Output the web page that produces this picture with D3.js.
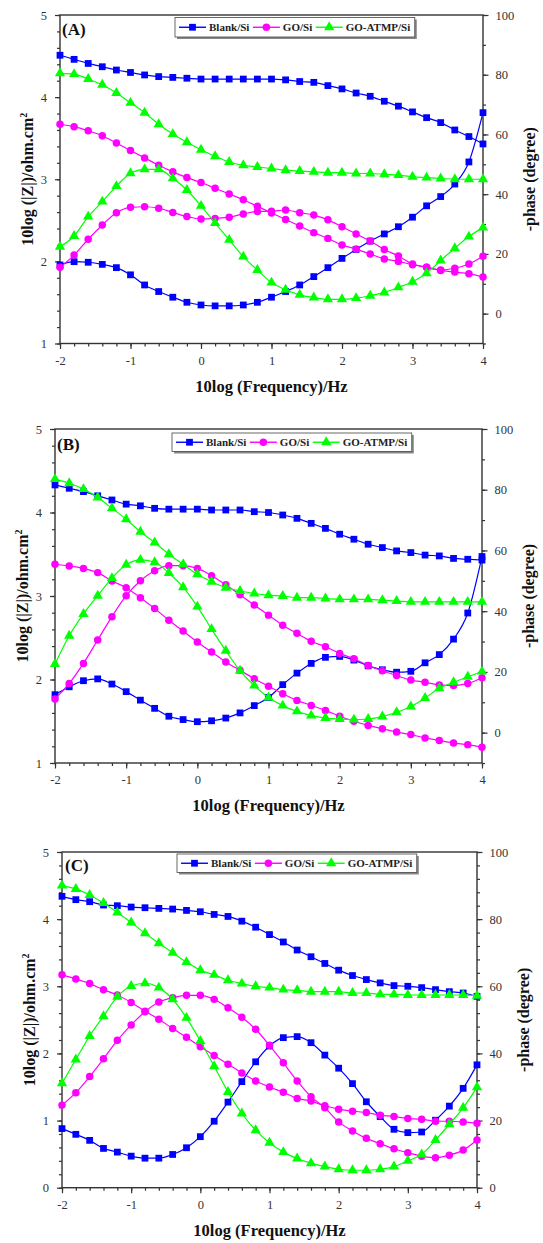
<!DOCTYPE html>
<html><head><meta charset="utf-8">
<script src="https://cdn.jsdelivr.net/npm/d3@7"></script>
<style>
body{margin:0;background:#fff;}
svg{display:block;}
text{font-family:"Liberation Serif","Times New Roman",serif;}
</style></head><body>
<svg id="chart" width="543" height="1243"></svg>
<script>
// ---- data ----
const logFreq = [-2,-1.8,-1.6,-1.4,-1.2,-1,-0.8,-0.6,-0.4,-0.2,0,0.2,0.4,0.6,0.8,1,1.2,1.4,1.6,1.8,2,2.2,2.4,2.6,2.8,3,3.2,3.4,3.6,3.8,4];
const seriesNames = ["Blank/Si","GO/Si","GO-ATMP/Si"];

// Panel A : 10log|Z| (left axis) and -phase in degree (right axis)
const A_blankZ = [4.51,4.46,4.41,4.37,4.33,4.30,4.27,4.25,4.24,4.23,4.22,4.22,4.22,4.22,4.22,4.22,4.21,4.19,4.18,4.14,4.10,4.05,4.01,3.95,3.89,3.82,3.75,3.69,3.60,3.52,3.43];
const A_goZ    = [3.67,3.64,3.59,3.53,3.44,3.35,3.26,3.17,3.09,3.02,2.96,2.89,2.82,2.75,2.67,2.59,2.51,2.43,2.35,2.28,2.20,2.15,2.09,2.03,2.00,1.96,1.93,1.89,1.87,1.85,1.81];
const A_atmpZ  = [4.29,4.28,4.22,4.15,4.05,3.93,3.81,3.67,3.55,3.45,3.36,3.28,3.21,3.17,3.15,3.13,3.11,3.10,3.09,3.08,3.08,3.07,3.07,3.06,3.05,3.03,3.02,3.01,3.00,3.00,3.00];
const A_blankP = [16.3,17.4,17.2,16.5,15.4,13.0,9.6,7.4,5.5,3.8,2.9,2.6,2.6,2.9,3.8,5.5,7.4,9.6,12.4,15.4,18.5,21.5,24.3,26.7,29.1,32.3,36.1,39.2,43.4,50.8,67.3];
const A_goP    = [15.5,19.6,24.9,29.7,33.8,35.6,35.8,35.3,33.9,32.5,31.7,31.9,32.3,33.4,34.2,34.3,34.7,33.8,33.0,31.4,29.1,26.7,24.3,21.5,19.3,16.6,15.5,14.6,15.2,16.6,19.2];
const A_atmpP  = [22.4,26.0,32.5,37.5,42.7,47.0,48.3,48.3,45.3,41.4,36.1,30.3,24.7,19.1,14.6,10.4,8.0,6.3,5.4,4.8,4.8,5.2,6.0,7.1,8.8,10.7,13.5,17.8,21.9,25.8,28.8];

// Panel B
const B_blankZ = [4.33,4.29,4.25,4.20,4.15,4.10,4.08,4.05,4.04,4.04,4.04,4.03,4.03,4.03,4.01,4.00,3.97,3.93,3.87,3.81,3.74,3.68,3.62,3.58,3.54,3.52,3.49,3.48,3.45,3.44,3.43];
const B_goZ    = [3.38,3.36,3.33,3.28,3.18,3.10,2.98,2.85,2.71,2.58,2.45,2.33,2.21,2.11,2.01,1.92,1.83,1.75,1.69,1.63,1.56,1.50,1.45,1.41,1.37,1.34,1.30,1.27,1.24,1.22,1.19];
const B_atmpZ  = [4.40,4.35,4.28,4.18,4.05,3.92,3.77,3.64,3.50,3.38,3.26,3.17,3.10,3.06,3.03,3.01,3.00,2.98,2.98,2.97,2.96,2.96,2.96,2.95,2.94,2.93,2.93,2.93,2.93,2.93,2.93];
const B_blankP = [12.5,15.1,17.1,17.7,16.0,13.5,10.7,8.0,5.4,4.3,3.6,3.9,4.8,6.5,8.9,11.6,15.8,19.6,22.8,24.8,25.1,23.9,22.0,20.7,19.9,20.2,23.0,25.7,30.8,39.4,58.0];
const B_goP    = [11.1,16.2,22.8,30.5,38.2,45.1,50.0,53.3,55.0,55.0,54.1,51.7,48.7,45.4,42.0,38.7,35.4,32.7,30.1,28.3,26.1,24.3,22.1,20.4,18.8,17.3,16.6,15.7,15.5,16.2,18.1];
const B_atmpP  = [22.6,31.9,39.1,45.1,50.9,55.3,56.9,56.1,52.6,47.9,41.5,34.1,27.0,20.4,15.5,11.6,8.9,7.0,5.6,4.8,4.5,4.3,4.5,5.3,6.7,8.6,11.4,14.6,16.6,18.4,20.1];

// Panel C
const C_blankZ = [4.34,4.29,4.26,4.21,4.20,4.18,4.17,4.16,4.15,4.13,4.11,4.07,4.04,3.97,3.88,3.77,3.66,3.54,3.44,3.34,3.24,3.16,3.10,3.05,3.01,3.00,2.98,2.95,2.92,2.90,2.85];
const C_goZ    = [3.17,3.11,3.04,2.95,2.87,2.76,2.63,2.51,2.37,2.24,2.10,1.97,1.84,1.71,1.59,1.50,1.42,1.33,1.29,1.22,1.17,1.14,1.12,1.08,1.06,1.03,1.02,0.99,0.99,0.98,0.96];
const C_atmpZ  = [4.50,4.45,4.36,4.24,4.10,3.95,3.79,3.64,3.50,3.36,3.24,3.17,3.09,3.04,3.00,2.98,2.95,2.94,2.92,2.92,2.92,2.90,2.90,2.88,2.88,2.87,2.87,2.87,2.87,2.87,2.86];
const C_blankP = [17.6,15.9,14.1,11.7,10.6,9.4,8.8,8.8,9.9,11.9,15.2,19.8,25.5,31.6,37.5,42.2,44.7,45.0,43.2,39.5,35.6,31.0,25.6,21.2,17.4,16.4,16.6,20.1,24.3,29.6,36.6];
const C_goP    = [24.6,28.3,33.1,38.4,43.9,48.5,52.4,55.3,56.6,57.3,57.3,56.1,53.6,50.8,47.2,42.4,37.2,31.8,27.1,23.8,19.6,16.9,14.7,13.1,11.6,10.4,9.4,8.9,9.7,11.2,14.2];
const C_atmpP  = [31.1,38.2,45.2,51.1,56.9,60.1,60.9,59.6,56.1,50.6,43.7,36.2,28.5,22.1,17.1,13.4,10.6,8.7,7.3,6.3,5.5,5.2,5.2,5.5,6.3,8.0,9.9,14.2,18.9,23.8,29.9];

// tick labels
const xTicks = [-2,-1,0,1,2,3,4];
const leftTicksAB = [1,2,3,4,5];
const leftTicksC = [0,1,2,3,4,5];
const rightTicks = [0,20,40,60,80,100];
const panelLabels = ["(A)","(B)","(C)"];
const xTitle = "10log (Frequency)/Hz";
const rightTitle = "-phase (degree)";

// ---- styling / layout ----
const colors = ["#0000ff","#ff00ff","#00ff00"];
const symbols = [d3.symbolSquare, d3.symbolCircle, d3.symbolTriangle];
const symSizes = [46, 44, 46];

const layout = [
  {l:60, r:483, t:15,  b:343.5, yL:[1,5], yR:[-10,100], lt:leftTicksAB, rMinor:10, lab:{x:62,y:35}, leg:{x:175,y:17.5,h:19.5}},
  {l:55, r:482, t:429, b:763,   yL:[1,5], yR:[-10,100], lt:leftTicksAB, rMinor:10, lab:{x:57,y:450}, leg:{x:172,y:433,h:18.5}},
  {l:62, r:477, t:852, b:1187.7,yL:[0,5], yR:[0,100],   lt:leftTicksC,  rMinor:4,  lab:{x:65,y:871}, leg:{x:177,y:854,h:18.5}}
];
const zData = [[A_blankZ,A_goZ,A_atmpZ],[B_blankZ,B_goZ,B_atmpZ],[C_blankZ,C_goZ,C_atmpZ]];
const pData = [[A_blankP,A_goP,A_atmpP],[B_blankP,B_goP,B_atmpP],[C_blankP,C_goP,C_atmpP]];

const svg = d3.select("#chart");
const axisColor = "#333";

layout.forEach((L, pi) => {
  const g = svg.append("g");
  const x = d3.scaleLinear().domain([-2,4]).range([L.l, L.r]);
  const yL = d3.scaleLinear().domain(L.yL).range([L.b, L.t]);
  const yR = d3.scaleLinear().domain(L.yR).range([L.b, L.t]);

  function styleAxis(sel, labels){
    sel.select(".domain").remove();
    sel.selectAll("line").attr("stroke", axisColor).attr("stroke-width", 1.2);
    sel.selectAll("text").attr("fill", axisColor).style("font-size","12.5px")
       .style("font-family",'"Liberation Serif","Times New Roman",serif');
  }
  const fmt = d => String(d);

  // minor ticks
  const xMinor = d3.range(-2, 4.001, 0.2);
  const lMinor = d3.range(L.yL[0], L.yL[1]+0.001, 0.2);
  const rMinor = d3.range(L.yR[0], L.yR[1]+0.001, L.rMinor);
  g.append("g").attr("transform",`translate(0,${L.b})`)
    .call(d3.axisBottom(x).tickValues(xMinor).tickSize(3).tickFormat("")).call(styleAxis);
  g.append("g").attr("transform",`translate(${L.l},0)`)
    .call(d3.axisLeft(yL).tickValues(lMinor).tickSize(3).tickFormat("")).call(styleAxis);
  g.append("g").attr("transform",`translate(${L.r},0)`)
    .call(d3.axisRight(yR).tickValues(rMinor).tickSize(3).tickFormat("")).call(styleAxis);

  // major ticks
  g.append("g").attr("transform",`translate(0,${L.b})`)
    .call(d3.axisBottom(x).tickValues(xTicks).tickSize(5.5).tickPadding(7).tickFormat(fmt)).call(styleAxis);
  g.append("g").attr("transform",`translate(${L.l},0)`)
    .call(d3.axisLeft(yL).tickValues(L.lt).tickSize(5).tickPadding(8).tickFormat(fmt)).call(styleAxis);
  g.append("g").attr("transform",`translate(${L.r},0)`)
    .call(d3.axisRight(yR).tickValues(rightTicks).tickSize(5.5).tickPadding(7).tickFormat(fmt)).call(styleAxis);

  // frame
  g.append("rect").attr("x",L.l).attr("y",L.t).attr("width",L.r-L.l).attr("height",L.b-L.t)
    .attr("fill","none").attr("stroke",axisColor).attr("stroke-width",1.4);

  // series
  const lineL = d3.line().x((d,i)=>x(logFreq[i])).y(d=>yL(d)).curve(d3.curveMonotoneX);
  const lineR = d3.line().x((d,i)=>x(logFreq[i])).y(d=>yR(d)).curve(d3.curveMonotoneX);
  for (let s=0; s<3; s++){
    const sets = [[zData[pi][s], yL, lineL],[pData[pi][s], yR, lineR]];
    sets.forEach(([arr, yS, ln]) => {
      g.append("path").datum(arr).attr("d", ln).attr("fill","none")
        .attr("stroke", colors[s]).attr("stroke-width", 1.2);
      g.append("g").selectAll("path").data(arr).join("path")
        .attr("transform",(d,i)=>`translate(${x(logFreq[i])},${yS(d)})`)
        .attr("d", d3.symbol().type(symbols[s]).size(symSizes[s]))
        .attr("fill", colors[s]);
    });
  }

  // panel label
  g.append("text").attr("x",L.lab.x).attr("y",L.lab.y).text(panelLabels[pi])
    .style("font-size","17px").style("font-weight","bold").attr("fill","#111");

  // legend
  const leg = g.append("g");
  const shadow = leg.append("rect");
  const box = leg.append("rect");
  let cx = L.leg.x + 4;
  const cy = L.leg.y + L.leg.h/2;
  seriesNames.forEach((nm, s) => {
    leg.append("line").attr("x1",cx).attr("x2",cx+27).attr("y1",cy).attr("y2",cy)
      .attr("stroke",colors[s]).attr("stroke-width",1.4);
    leg.append("path").attr("transform",`translate(${cx+13.5},${cy})`)
      .attr("d", d3.symbol().type(symbols[s]).size(symSizes[s])).attr("fill",colors[s]);
    cx += 30;
    const t = leg.append("text").attr("x",cx).attr("y",cy+4).text(nm)
      .style("font-size","11px").style("font-weight","bold").attr("fill","#222");
    cx += t.node().getComputedTextLength() + 3.5;
  });
  const w = cx - L.leg.x + 1;
  shadow.attr("x",L.leg.x+2).attr("y",L.leg.y+2).attr("width",w).attr("height",L.leg.h).attr("fill","#888");
  box.attr("x",L.leg.x).attr("y",L.leg.y).attr("width",w).attr("height",L.leg.h)
    .attr("fill","#fff").attr("stroke","#444").attr("stroke-width",0.8);

  // axis titles
  const midY = (L.t+L.b)/2;
  g.append("text").attr("text-anchor","middle")
    .attr("transform",`translate(${L.l-27},${midY}) rotate(-90)`)
    .style("font-size","16px").style("font-weight","bold").attr("fill","#111")
    .call(t => { t.append("tspan").text("10log (|Z|)/ohm.cm");
                 t.append("tspan").attr("dy","-6").style("font-size","10px").text("2"); });
  g.append("text").attr("text-anchor","middle")
    .attr("transform",`translate(${L.r+52},${midY}) rotate(-90)`)
    .style("font-size","16px").style("font-weight","bold").attr("fill","#111").text(rightTitle);
  g.append("text").attr("text-anchor","middle").attr("x",(L.l+L.r)/2).attr("y",L.b+48)
    .style("font-size","16.5px").style("font-weight","bold").attr("fill","#111").text(xTitle);
});
</script>
</body></html>
